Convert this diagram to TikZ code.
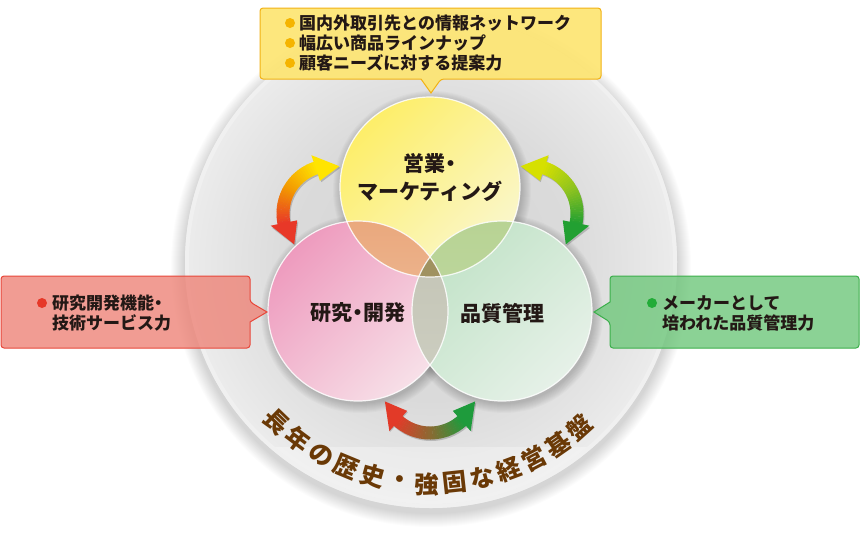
\documentclass[tikz,border=0pt]{standalone}
\usepackage{fontspec}
\setmainfont{Noto Sans CJK JP}
\newfontfamily\jph{Noto Sans CJK JP}[RawFeature=+halt]
\usetikzlibrary{calc}
\definecolor{txt}{RGB}{35,24,21}
\definecolor{brn}{RGB}{106,57,6}
\definecolor{ysat}{RGB}{253,238,105}
\definecolor{ypale}{RGB}{250,247,205}
\definecolor{psat}{RGB}{238,155,190}
\definecolor{ppale}{RGB}{247,224,232}
\definecolor{gsat}{RGB}{192,226,198}
\definecolor{gpale}{RGB}{230,241,232}
\definecolor{ypA}{RGB}{234,168,125}
\definecolor{ypB}{RGB}{240,200,168}
\definecolor{ygA}{RGB}{184,211,148}
\definecolor{ygB}{RGB}{194,218,168}
\definecolor{pgA}{RGB}{194,195,180}
\definecolor{pgB}{RGB}{206,207,194}
\definecolor{trip}{RGB}{160,146,96}
\definecolor{ulY}{RGB}{255,228,0}
\definecolor{ulM}{RGB}{243,152,0}
\definecolor{ulR}{RGB}{232,56,40}
\definecolor{urYG}{RGB}{214,224,0}
\definecolor{urM}{RGB}{143,195,31}
\definecolor{urG}{RGB}{34,160,50}
\definecolor{bR}{RGB}{226,58,40}
\definecolor{bM}{RGB}{140,105,50}
\definecolor{bG}{RGB}{30,155,60}
\definecolor{boxY}{RGB}{253,229,114}
\definecolor{boxYb}{RGB}{242,178,20}
\definecolor{boxR}{RGB}{238,132,120}
\definecolor{boxRb}{RGB}{232,71,58}
\definecolor{boxG}{RGB}{111,199,123}
\definecolor{boxGb}{RGB}{60,175,75}
\definecolor{bulY}{RGB}{245,180,0}
\definecolor{bulR}{RGB}{230,56,40}
\definecolor{bulG}{RGB}{34,172,56}
\pgfdeclareradialshading{bigsh}{\pgfpoint{0bp}{0bp}}{rgb(0bp)=(0.84,0.84,0.84); rgb(14bp)=(0.855,0.855,0.855); rgb(22bp)=(0.905,0.905,0.905); rgb(25bp)=(0.925,0.925,0.925); rgb(50bp)=(0.925,0.925,0.925)}
\def\rr{48}\def\ro{54.5}\def\ri{41.5}\def\rh{61.5}\def\rhi{34.5}\def\dl{28}\def\spanA{42}
\newcommand\dblarrow[6]{%
 \begin{scope}[shift={(#1,#2)}]
  \pgfmathsetmacro\aA{#3-\spanA}
  \pgfmathsetmacro\aB{#3+\spanA}
  \pgfmathsetmacro\aAt{\aA-\dl}
  \pgfmathsetmacro\aBt{\aB+\dl}
  \pgfmathsetmacro\aAp{\aA+0.6}
  \pgfmathsetmacro\aBp{\aB-0.6}
  \fill[black,opacity=0.18,shift={(1,-1.5)}] (\aA:\ro) arc[start angle=\aA,end angle=\aB,radius=\ro] -- (\aB:\rh) -- (\aBt:\rr) -- (\aB:\rhi) -- (\aB:\ri) arc[start angle=\aB,end angle=\aA,radius=\ri] -- (\aA:\rhi) -- (\aAt:\rr) -- (\aA:\rh) -- cycle;
  \foreach \i in {0,...,29}{
   \pgfmathsetmacro\tA{\aA+(\aB-\aA)*\i/30}
   \pgfmathsetmacro\tB{\aA+(\aB-\aA)*(\i+1)/30+0.4}
   \pgfmathsetmacro\tq{(\i+0.5)/30}
   \ifdim\tq pt<0.5pt \pgfmathsetmacro\pp{200*\tq}\colorlet{segc}{#5!\pp!#4}\else\pgfmathsetmacro\pp{200*\tq-100}\colorlet{segc}{#6!\pp!#5}\fi
   \fill[segc] (\tA:\ri) arc[start angle=\tA,end angle=\tB,radius=\ri] -- (\tB:\ro) arc[start angle=\tB,end angle=\tA,radius=\ro] -- cycle;
  }
  \fill[#4] (\aAp:\rhi) -- (\aAt:\rr) -- (\aAp:\rh) -- cycle;
  \fill[#6] (\aBp:\rhi) -- (\aBt:\rr) -- (\aBp:\rh) -- cycle;
 \end{scope}}
\tikzset{
 lbl/.style={inner sep=0pt,text=txt,font=\jph\fontsize{21}{24}\selectfont\bfseries},
 ctxt/.style={inner sep=0pt,anchor=west,text=txt,font=\jph\fontsize{17}{20}\selectfont\bfseries},
 arcch/.style={inner sep=0pt,text=brn,font=\fontsize{24.5}{25}\selectfont\bfseries},
 vring/.style={draw=white,line width=1.2pt,draw opacity=0.85}
}
\begin{document}
\begin{tikzpicture}[x=1pt,y=1pt]
\useasboundingbox (0,0) rectangle (860,-550);
\fill[white] (0,0) rectangle (860,-550);
% big circle
\coordinate (B) at (431,-262);
\foreach \k in {1,...,14} \fill[black,opacity=0.012] ($(B)+(0,-5)$) circle[radius=246+\k];
\shade[shading=bigsh] (B) circle[radius=246];
\draw[white!94!black,line width=4pt] (B) circle[radius=244];
\begin{scope}
 \clip (B) circle[radius=242];
 \fill[white,opacity=0.3] (150,-447) rectangle (720,-520);
\end{scope}
% venn circles
\coordinate (Y) at (430,-187);
\coordinate (P) at (358,-311);
\coordinate (G) at (502,-311);
\foreach \c in {Y,P,G}{\foreach \k in {1,...,10} \fill[black,opacity=0.02] ($(\c)+(2,-3)$) circle[radius=89+\k];}
\shade[top color=ysat,bottom color=ypale,shading angle=45] (Y) circle[radius=90];
\shade[top color=psat,bottom color=ppale,shading angle=45] (P) circle[radius=90];
\shade[top color=gsat,bottom color=gpale,shading angle=45] (G) circle[radius=90];
\begin{scope}\clip (Y) circle[radius=90];
 \shade[top color=ypA,bottom color=ypB] (P) circle[radius=90];
 \shade[top color=ygA,bottom color=ygB] (G) circle[radius=90];
\end{scope}
\begin{scope}\clip (P) circle[radius=90];
 \shade[top color=pgA,bottom color=pgB] (G) circle[radius=90];
 \clip (Y) circle[radius=90];
 \fill[trip] (G) circle[radius=90];
\end{scope}
\draw[vring] (Y) circle[radius=90];
\draw[vring] (P) circle[radius=90];
\draw[vring] (G) circle[radius=90];
% arrows
\dblarrow{331}{-213.5}{150}{ulY}{ulM}{ulR}
\dblarrow{529}{-213.5}{30}{urG}{urM}{urYG}
\dblarrow{430}{-385}{270}{bR}{bM}{bG}
% circle labels
\node[lbl] (l1a) at (430,-163) {営業・};
\node[lbl] (l1b) at (430,-191) {マーケティング};
\node[lbl] (l2) at (358,-313) {研究・開発};
\node[lbl] (l3) at (502,-313) {品質管理};
% arc text
\foreach \c [count=\i from 0] in {長,年,の,歴,史,・,強,固,な,経,営,基,盤}{
 \pgfmathsetmacro\ang{-134+\i*7.1667}
 \pgfmathsetmacro\rot{\ang+90}
 \node[arcch,rotate=\rot] (a\i) at ($(B)+(\ang:222)$) {\c};
}
% top callout
\path[fill=boxY,fill opacity=0.92,draw=boxYb,line width=1pt,rounded corners=3pt]
 (260,-8) -- (601,-8) -- (601,-79) -- (441,-79) [sharp corners] -- (431,-93) -- (421,-79) [rounded corners=3pt] -- (260,-79) -- cycle;
\foreach \yy in {23,43,63} \fill[bulY] (290,-\yy) circle[radius=5];
\node[ctxt] (t1) at (299,-23) {国内外取引先との情報ネットワーク};
\node[ctxt] (t2) at (299,-43) {幅広い商品ラインナップ};
\node[ctxt] (t3) at (299,-63) {顧客ニーズに対する提案力};
% left callout
\path[fill=boxR,fill opacity=0.8,draw=boxRb,line width=1pt,rounded corners=3pt]
 (1,-276) -- (250,-276) -- (250,-302) [sharp corners] -- (267,-312) -- (250,-322) [rounded corners=3pt] -- (250,-348) -- (1,-348) -- cycle;
\fill[bulR] (42,-303) circle[radius=5];
\node[ctxt] (r1) at (52,-303) {研究開発機能・};
\node[ctxt] (r2) at (52,-323) {技術サービス力};
% right callout
\path[fill=boxG,fill opacity=0.8,draw=boxGb,line width=1pt,rounded corners=3pt]
 (610,-276) -- (859,-276) -- (859,-348) -- (610,-348) -- (610,-322) [sharp corners] -- (594,-312) -- (610,-302) [rounded corners=3pt] -- cycle;
\fill[bulG] (652,-303) circle[radius=5];
\node[ctxt] (g1) at (662,-303) {メーカーとして};
\node[ctxt] (g2) at (662,-323) {培われた品質管理力};
\end{tikzpicture}
\end{document}
